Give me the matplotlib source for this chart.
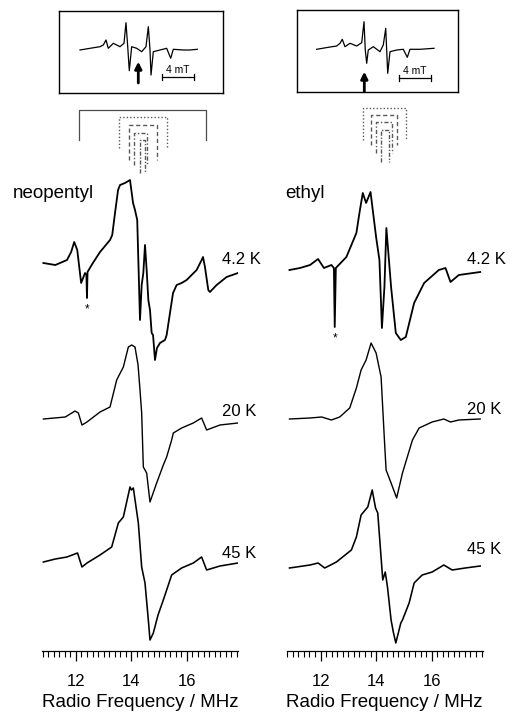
import numpy as np
import matplotlib.pyplot as plt
from matplotlib.ticker import MultipleLocator, FixedLocator

plt.rcParams['font.family'] = ['Liberation Sans', 'DejaVu Sans']

temps = ['4.2 K', '20 K', '45 K']

# neopentyl ENDOR spectra: frequency (MHz), derivative signal (arb. units)
neo_f_42 = [10.83, 11.26, 11.68, 11.83, 11.94, 12.05, 12.19, 12.33, 12.38, 12.40, 12.42, 12.59,
            12.87, 13.05, 13.23, 13.31, 13.41, 13.52, 13.59, 13.77, 13.95, 14.06, 14.13, 14.21,
            14.31, 14.37, 14.43, 14.49, 14.55, 14.61, 14.67, 14.73, 14.78, 14.85, 14.92, 15.03,
            15.21, 15.27, 15.39, 15.50, 15.63, 15.81, 15.99, 16.35, 16.53, 16.58, 16.65, 16.77,
            16.83, 17.07, 17.43, 17.84]
neo_s_42 = [0, -2, 3, 11, 21, 13, -20, -10, -12, -35, -9, -1,
            11, 17, 23, 28, 50, 73, 78, 80, 83, 60, 53, 43,
            -57, -22, -10, 18, -7, -37, -47, -70, -72, -97, -85, -80,
            -77, -72, -50, -30, -22, -20, -17, -7, 3, 6, -4, -27,
            -29, -22, -14, -10]
neo_f_20 = [10.83, 11.62, 11.97, 12.09, 12.22, 12.40, 12.87, 13.23, 13.47, 13.71, 13.89, 14.01,
            14.13, 14.24, 14.31, 14.37, 14.43, 14.55, 14.67, 14.91, 15.15, 15.27, 15.45, 15.51,
            15.81, 16.23, 16.53, 16.71, 17.19, 17.84]
neo_s_20 = [0, 2, 8, 6, -6, -3, 7, 12, 39, 52, 72, 74,
            72, 54, 29, 6, -48, -54, -83, -64, -46, -38, -21, -14,
            -9, -4, 1, -11, -6, -4]
neo_f_45 = [10.83, 11.26, 11.68, 12.06, 12.22, 12.40, 12.87, 13.29, 13.53, 13.71, 13.95, 14.00,
            14.07, 14.25, 14.37, 14.49, 14.61, 14.67, 14.79, 14.96, 15.15, 15.45, 15.81, 16.23,
            16.53, 16.71, 17.19, 17.84]
neo_s_45 = [0, 3, 5, 9, -5, -1, 7, 15, 39, 45, 75, 72,
            74, 39, -5, -21, -58, -78, -71, -53, -38, -13, -6, -1,
            5, -8, -4, -1]

# ethyl ENDOR spectra
eth_f_42 = [10.88, 11.26, 11.62, 11.91, 12.12, 12.39, 12.48, 12.51, 12.55, 12.93, 13.29, 13.40,
            13.52, 13.64, 13.80, 14.00, 14.12, 14.21, 14.30, 14.37, 14.54, 14.71, 14.89, 15.07,
            15.37, 15.73, 16.26, 16.50, 16.68, 16.98, 17.75]
eth_s_42 = [0, 2, 5, 11, 2, 5, 2, -57, 2, 13, 37, 57,
            77, 67, 78, 33, 10, -58, -17, 42, -17, -63, -70, -67,
            -33, -13, 0, 2, -12, -5, -2]
eth_f_20 = [10.88, 11.62, 12.04, 12.39, 12.69, 13.05, 13.29, 13.46, 13.64, 13.82, 14.00, 14.18,
            14.30, 14.36, 14.54, 14.74, 14.95, 15.31, 15.55, 16.02, 16.44, 16.68, 16.98, 17.75]
eth_s_20 = [0, 1, 2, -1, 2, 11, 31, 49, 59, 76, 66, 42,
            -21, -51, -64, -79, -54, -21, -9, -3, 0, -3, -1, 0]
eth_f_45 = [10.88, 11.62, 11.91, 12.15, 12.57, 13.11, 13.29, 13.46, 13.70, 13.86, 13.98, 14.06,
            14.24, 14.33, 14.41, 14.54, 14.62, 14.71, 14.89, 14.95, 15.19, 15.37, 15.66, 16.02,
            16.44, 16.74, 17.21, 17.75]
eth_s_45 = [0, 3, 5, 0, 6, 18, 31, 53, 61, 78, 60, 55,
            -12, -4, -19, -52, -64, -75, -55, -52, -35, -15, -7, -4,
            3, -2, 0, 2]

# stick diagrams (coupling pairs, MHz)
neo_bracket = [12.13, 16.69]
neo_sticks = [[13.57, 15.27], [13.93, 14.91], [14.10, 14.58], [14.31, 14.49]]
eth_sticks = [[13.52, 15.09], [13.82, 14.77], [14.00, 14.59], [14.18, 14.45]]

# EPR insets: field (mT), signal (arb.)
neo_epr_b = [2.62, 3.89, 5.15, 5.57, 5.91, 6.20, 6.84, 7.68, 8.19, 8.44, 8.66, 8.86, 9.16, 9.80,
             10.43, 10.97, 11.27, 11.48, 11.61, 11.90, 12.75, 13.59, 14.10, 14.43, 15.70, 16.54, 17.47]
neo_epr_s = [42.7, 44.4, 46, 47.7, 52.7, 44.4, 49.4, 46, 49.4, 70, 46, 22, 46, 44.4,
             41, 46, 66, 42.7, 17.7, 41, 42.7, 44.4, 34.4, 43.4, 42.7, 42.7, 43.4]
eth_epr_b = [2.53, 4.0, 5.06, 5.48, 5.77, 6.11, 6.75, 7.59, 8.23, 8.52, 8.68, 8.86, 9.06, 9.70,
             10.54, 10.96, 11.27, 11.39, 11.52, 11.81, 12.66, 13.49, 14.0, 14.34, 15.61, 17.38]
eth_epr_s = [42.4, 44.4, 45.7, 48.4, 52.4, 45, 48.4, 45.7, 49, 70, 41.7, 28.4, 41.7, 45,
             40, 46.7, 63.4, 41.7, 18.4, 40, 41.7, 42.4, 34.4, 42.4, 42.4, 43.4]
neo_arrow_b = 10.0
eth_arrow_b = 8.56

panels = [
    dict(name='neopentyl', name_x=13, left=42,
         f=[neo_f_42, neo_f_20, neo_f_45], s=[neo_s_42, neo_s_20, neo_s_45],
         offs=[388, 232, 89], lab_y=[391, 239, 98],
         bracket=neo_bracket, sticks=neo_sticks,
         stick_y=[(533.7, 502.7), (526, 491), (518.3, 486), (511, 477.7)],
         box=[59.3, 92.7, 163.4], epr_b=neo_epr_b, epr_s=neo_epr_s,
         arrow=(neo_arrow_b, 9.7, 31), bar_y=15.4),
    dict(name='ethyl', name_x=285, left=286.7,
         f=[eth_f_42, eth_f_20, eth_f_45], s=[eth_s_42, eth_s_20, eth_s_45],
         offs=[381, 232, 83], lab_y=[392, 241, 101],
         bracket=None, sticks=eth_sticks,
         stick_y=[(542.7, 511), (536, 506), (529.3, 498), (521, 489)],
         box=[296.7, 91.7, 161.6], epr_b=eth_epr_b, epr_s=eth_epr_s,
         arrow=(eth_arrow_b, 0, 20), bar_y=13.4),
]

W, H = 512, 713
fig = plt.figure(figsize=(W / 100, H / 100), dpi=100)

styles = [(0, (1, 1.5)), (0, (3, 2)), (0, (3, 1.5, 1, 1.5)), (0, (3, 1.2, 1, 1.2))]
widths = [1.3, 1.0, 1.15]

for p in panels:
    ax = fig.add_axes([p['left'] / W, 62 / H, 196 / W, 546 / H])
    ax.patch.set_alpha(0)
    for f, s, off, ly, t, lw in zip(p['f'], p['s'], p['offs'], p['lab_y'], temps, widths):
        ax.plot(f, np.array(s) + off, color='k', lw=lw)
        ax.text(17.27, ly, t, fontsize=12, ha='left', va='center')
    # asterisk under the impurity spike of the 4.2 K trace
    f0, s0 = np.array(p['f'][0]), np.array(p['s'][0])
    i = np.argmin(np.where(f0 < 13, s0, np.inf))
    ax.text(f0[i], p['offs'][0] + s0[i] - 5, '*', fontsize=8.5, ha='center', va='top')

    if p['bracket']:
        lo, hi = p['bracket']
        ax.plot([lo, lo, hi, hi], [511, 541, 541, 511], color='0.3', lw=0.9)
    for (lo, hi), (top, bot), ls in zip(p['sticks'], p['stick_y'], styles):
        ax.plot([lo, lo, hi, hi], [bot, top, top, bot], color='0.35', lw=1.0, ls=ls)

    ax.set_xlim(10.78, 17.84)
    ax.set_ylim(0, 546)
    for sp in ['top', 'left', 'right']:
        ax.spines[sp].set_visible(False)
    ax.spines['bottom'].set_linewidth(0.9)
    ax.set_yticks([])
    ax.xaxis.set_major_locator(FixedLocator([12, 14, 16]))
    ax.xaxis.set_minor_locator(MultipleLocator(0.2))
    ax.tick_params(axis='x', which='major', length=7.5, width=0.9, labelsize=12, pad=9)
    ax.tick_params(axis='x', which='minor', length=4.5, width=0.8)
    ax.set_xlabel('Radio Frequency / MHz', fontsize=13.5, labelpad=4)

    fig.text(p['name_x'] / W, 1 - 193 / H, p['name'], fontsize=13.5, ha='left', va='center')

    # EPR inset box
    bx, bb, bw = p['box']
    ins = fig.add_axes([bx / W, 1 - bb / H, bw / W, 81.7 / H])
    ins.plot(p['epr_b'], p['epr_s'], color='k', lw=0.9)
    ab, a0, a1 = p['arrow']
    ins.annotate('', xy=(ab, a1), xytext=(ab, a0),
                 arrowprops=dict(arrowstyle='-|>', lw=2.0, color='k', mutation_scale=10,
                                 shrinkA=0, shrinkB=0))
    by = p['bar_y']
    ins.plot([13.0, 17.0], [by, by], color='k', lw=0.9)
    ins.plot([13.0, 13.0], [by - 3, by + 3], color='k', lw=0.9)
    ins.plot([17.0, 17.0], [by - 3, by + 3], color='k', lw=0.9)
    ins.text(15.0, by + 2.5, '4 mT', fontsize=7.5, ha='center', va='bottom')
    ins.set_xlim(0, bw / 7.9)
    ins.set_ylim(0, 81.7)
    ins.set_xticks([])
    ins.set_yticks([])
    for sp in ins.spines.values():
        sp.set_linewidth(1.0)

fig.savefig('out.png', dpi=100)
